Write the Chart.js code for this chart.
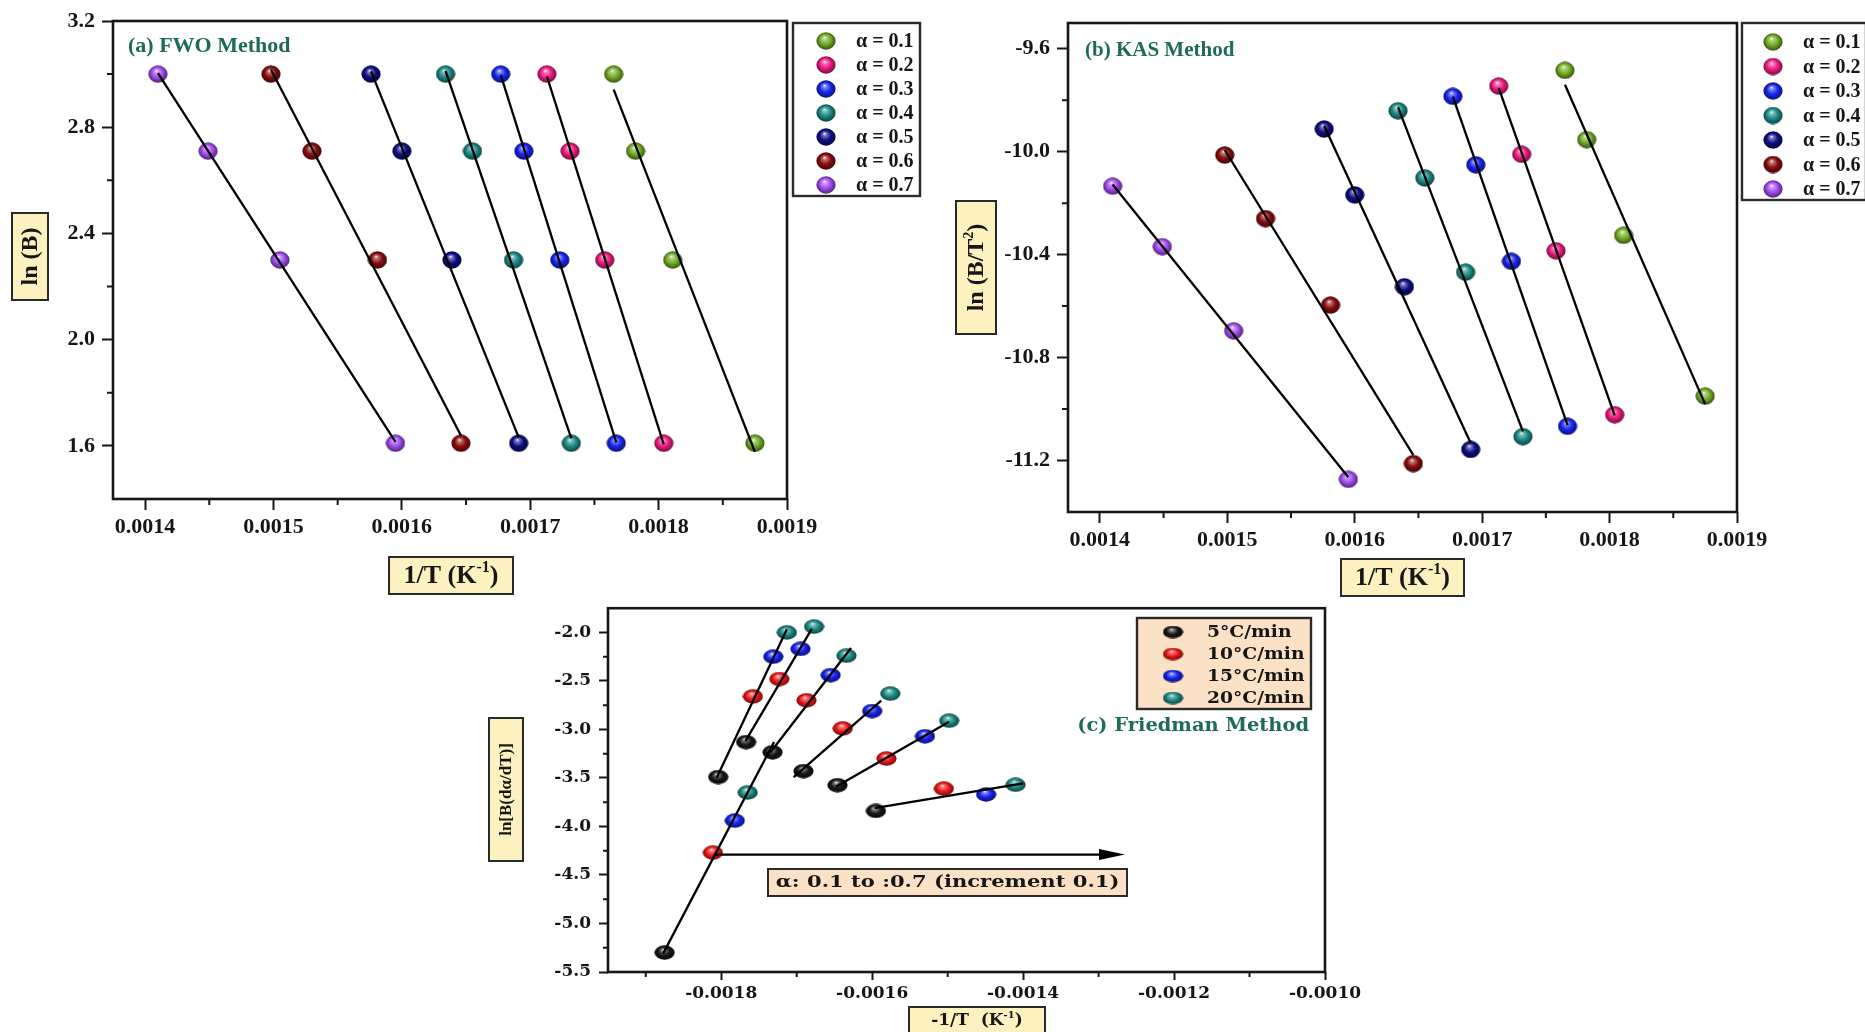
<!DOCTYPE html>
<html>
<head>
<meta charset="utf-8">
<title>Isoconversional kinetic plots</title>
<script src="https://cdn.jsdelivr.net/npm/chart.js@4.4.1/dist/chart.umd.min.js"></script>
<style>
  html, body { margin: 0; padding: 0; background: #ffffff; }
  body { width: 1865px; height: 1032px; position: relative; overflow: hidden; }
  canvas { position: absolute; }
</style>
</head>
<body>
<canvas id="fwo" width="930" height="600" style="left:0px;top:0px;width:930px;height:600px"></canvas>
<canvas id="kas" width="935" height="600" style="left:930px;top:0px;width:935px;height:600px"></canvas>
<canvas id="friedman" width="940" height="442" style="left:440px;top:590px;width:940px;height:442px"></canvas>
<script>
// ---------------------------------------------------------------------------
// Data
// ---------------------------------------------------------------------------
const alphaLabels = ['α = 0.1', 'α = 0.2', 'α = 0.3', 'α = 0.4', 'α = 0.5', 'α = 0.6', 'α = 0.7'];

// Columns of the per-conversion arrays follow this heating-rate order (°C/min)
const heatingRates = [20, 15, 10, 5];
const lnBeta = [3.00, 2.71, 2.30, 1.61];

// 1/T (K^-1) reached at each conversion
const invT01 = [0.001765, 0.001782, 0.001811, 0.001875];
const invT02 = [0.001713, 0.001731, 0.001758, 0.001804];
const invT03 = [0.001677, 0.001695, 0.001723, 0.001767];
const invT04 = [0.001634, 0.001655, 0.001687, 0.001732];
const invT05 = [0.001576, 0.001600, 0.001639, 0.001691];
const invT06 = [0.001498, 0.001530, 0.001581, 0.001646];
const invT07 = [0.001410, 0.001449, 0.001505, 0.001595];

// ln(B/T^2) for the KAS plot
const kas01 = [-9.684, -9.953, -10.325, -10.950];
const kas02 = [-9.745, -10.010, -10.385, -11.022];
const kas03 = [-9.785, -10.051, -10.426, -11.067];
const kas04 = [-9.841, -10.102, -10.468, -11.107];
const kas05 = [-9.912, -10.168, -10.525, -11.157];
const kas06 = [-10.013, -10.260, -10.596, -11.212];
const kas07 = [-10.134, -10.369, -10.696, -11.273];

// Friedman: ln[B(dα/dT)] for α = 0.1 ... 0.7 at each heating rate
const rateLabels = ['5°C/min', '10°C/min', '15°C/min', '20°C/min'];
const fried05 = [-5.30, -3.49, -3.13, -3.235, -3.43, -3.575, -3.84];
const fried10 = [-4.27, -2.66, -2.48, -2.70, -2.99, -3.30, -3.61];
const fried15 = [-3.94, -2.25, -2.17, -2.44, -2.81, -3.07, -3.67];
const fried20 = [-3.65, -2.00, -1.94, -2.24, -2.63, -2.91, -3.57];
// extent (in -1/T) of each Friedman regression line
const friedFitFrom = [-0.001877, -0.001806, -0.001768, -0.001735, -0.001704, -0.001648, -0.001597];
const friedFitTo   = [-0.001730, -0.001713, -0.001680, -0.001628, -0.001588, -0.001498, -0.001400];
// horizontal "α increases" arrow
const arrowSpan = [-0.00181, -0.001265];
const arrowLevel = -4.29;

// Axis ticks
const invTTicks = [0.0014, 0.0015, 0.0016, 0.0017, 0.0018, 0.0019];
const invTMinor = [0.00145, 0.00155, 0.00165, 0.00175, 0.00185];
const fwoTicks = [1.6, 2.0, 2.4, 2.8, 3.2];
const fwoMinor = [1.8, 2.2, 2.6, 3.0];
const kasTicks = [-11.2, -10.8, -10.4, -10.0, -9.6];
const kasMinor = [-11.0, -10.6, -10.2, -9.8];
const friedXTicks = [-0.0018, -0.0016, -0.0014, -0.0012, -0.0010];
const friedXMinor = [-0.0019, -0.0017, -0.0015, -0.0013, -0.0011];
const friedYTicks = [-5.5, -5.0, -4.5, -4.0, -3.5, -3.0, -2.5, -2.0];
const friedYMinor = [-5.25, -4.75, -4.25, -3.75, -3.25, -2.75, -2.25];

// ---------------------------------------------------------------------------
// Styling helpers
// ---------------------------------------------------------------------------
const INK = '#161616';
const TITLE = '#1d6b58';
const SERIF = "'Liberation Serif', 'Times New Roman', serif";
const WIDE = "'DejaVu Serif', serif";
const LABEL_FILL = '#fcf1bf';
const PEACH = '#fbe2c6';

const alphaColors = ['#72ae26', '#f01a82', '#1626f0', '#1b8a86', '#0d0d84', '#8a0c0c', '#a44cf2'];
const rateColors = ['#171717', '#f01616', '#1624f0', '#1b8a86'];

function shade(hex, f) {
  const n = parseInt(hex.slice(1), 16);
  let r = n >> 16, g = (n >> 8) & 255, b = n & 255;
  if (f >= 0) { r += (255 - r) * f; g += (255 - g) * f; b += (255 - b) * f; }
  else { r *= 1 + f; g *= 1 + f; b *= 1 + f; }
  return 'rgb(' + Math.round(r) + ',' + Math.round(g) + ',' + Math.round(b) + ')';
}

// glossy ball used as point marker
function sphere(hex, w, h) {
  const c = document.createElement('canvas');
  c.width = w; c.height = h;
  const g = c.getContext('2d');
  g.scale(1, h / w);
  const r = w / 2;
  const grd = g.createRadialGradient(r * 0.85, r * 0.6, 0, r, r, r);
  grd.addColorStop(0, '#ffffff');
  grd.addColorStop(0.18, shade(hex, 0.45));
  grd.addColorStop(0.55, hex);
  grd.addColorStop(1, shade(hex, -0.55));
  g.fillStyle = grd;
  g.beginPath();
  g.arc(r, r, r - 0.4, 0, Math.PI * 2);
  g.fill();
  return c;
}

function leastSquares(xs, ys) {
  const n = xs.length;
  const mx = xs.reduce((s, v) => s + v, 0) / n;
  const my = ys.reduce((s, v) => s + v, 0) / n;
  let sxy = 0, sxx = 0;
  for (let i = 0; i < n; i++) { sxy += (xs[i] - mx) * (ys[i] - my); sxx += (xs[i] - mx) ** 2; }
  const m = sxy / sxx;
  return { m: m, b: my - m * mx };
}

function fitLine(xs, ys, from, to) {
  const f = leastSquares(xs, ys);
  return {
    type: 'scatter', showLine: true, order: 0,
    data: [{ x: from, y: f.m * from + f.b }, { x: to, y: f.m * to + f.b }],
    borderColor: '#000', borderWidth: 2.3, pointRadius: 0, fill: false
  };
}

function pointSet(label, xs, ys, img) {
  return {
    type: 'scatter', label: label, order: 1,
    data: xs.map((x, i) => ({ x: x, y: ys[i] })),
    pointStyle: img, pointRadius: 9, pointHoverRadius: 9
  };
}

function axis(spec, horizontal) {
  return {
    type: 'linear', min: spec.min, max: spec.max,
    afterBuildTicks: s => { s.ticks = spec.ticks.map(v => ({ value: v })); },
    afterFit: s => { if (horizontal) s.height = spec.size; else s.width = spec.size; },
    border: { display: false },
    grid: { drawOnChartArea: false, drawTicks: true, tickLength: spec.tickLen, tickWidth: 2, tickColor: INK },
    ticks: {
      font: spec.font, color: INK, padding: spec.pad, maxRotation: 0, minRotation: 0, autoSkip: false,
      callback: v => Number(v).toFixed(spec.dec)
    }
  };
}

function minorTicks(chart, xs, ys, len) {
  const c = chart.ctx, a = chart.chartArea, sx = chart.scales.x, sy = chart.scales.y;
  c.save();
  c.strokeStyle = INK; c.lineWidth = 2;
  c.beginPath();
  xs.forEach(v => { const p = sx.getPixelForValue(v); c.moveTo(p, a.bottom); c.lineTo(p, a.bottom + len); });
  ys.forEach(v => { const p = sy.getPixelForValue(v); c.moveTo(a.left, p); c.lineTo(a.left - len, p); });
  c.stroke();
  c.restore();
}

function frame(chart) {
  const c = chart.ctx, a = chart.chartArea;
  c.save();
  c.strokeStyle = INK; c.lineWidth = 2.6;
  c.strokeRect(a.left, a.top, a.right - a.left, a.bottom - a.top);
  c.restore();
}

function box(c, x0, y0, x1, y1, fill, lw) {
  c.save();
  c.fillStyle = fill; c.fillRect(x0, y0, x1 - x0, y1 - y0);
  c.strokeStyle = '#2a2a2a'; c.lineWidth = lw || 2;
  c.strokeRect(x0, y0, x1 - x0, y1 - y0);
  c.restore();
}

// centred text with superscript parts: parts = [[text, isSup], ...]
function richText(c, parts, cx, cy, family, size, rotated, xScale) {
  c.save();
  c.translate(cx, cy);
  if (rotated) c.rotate(-Math.PI / 2);
  c.scale(xScale || 1, 1);
  c.fillStyle = INK;
  c.textBaseline = 'middle'; c.textAlign = 'left';
  const supSize = Math.round(size * 0.6);
  let total = 0;
  const widths = parts.map(([t, sup]) => {
    c.font = 'bold ' + (sup ? supSize : size) + 'px ' + family;
    const w = c.measureText(t).width; total += w; return w;
  });
  let x = -total / 2;
  parts.forEach(([t, sup], i) => {
    c.font = 'bold ' + (sup ? supSize : size) + 'px ' + family;
    c.fillText(t, x, sup ? -size * 0.32 : 0);
    x += widths[i];
  });
  c.restore();
}

function legendBlock(c, items, markerX, textX, firstY, step, family, size, xScale) {
  c.save();
  c.font = 'bold ' + size + 'px ' + family;
  c.fillStyle = INK; c.textBaseline = 'middle'; c.textAlign = 'left';
  items.forEach((it, i) => {
    const y = firstY + i * step;
    c.drawImage(it.img, markerX - it.img.width / 2, y - it.img.height / 2);
    c.save();
    c.translate(textX, y + 1);
    c.scale(xScale || 1, 1);
    c.fillText(it.label, 0, 0);
    c.restore();
  });
  c.restore();
}

function titleText(c, text, x, y, family, size, align, xScale) {
  c.save();
  c.font = 'bold ' + size + 'px ' + family;
  c.fillStyle = TITLE; c.textBaseline = 'middle'; c.textAlign = align || 'left';
  c.translate(x, y);
  c.scale(xScale || 1, 1);
  c.fillText(text, 0, 0);
  c.restore();
}

function makeChart(id, datasets, padding, xSpec, ySpec, decor) {
  return new Chart(document.getElementById(id), {
    type: 'scatter',
    data: { datasets: datasets },
    options: {
      responsive: false, animation: false, devicePixelRatio: 1,
      layout: { autoPadding: false, padding: padding },
      plugins: { legend: { display: false }, tooltip: { enabled: false } },
      scales: { x: axis(xSpec, true), y: axis(ySpec, false) }
    },
    plugins: [{ id: 'decor_' + id, afterDraw: decor }]
  });
}

// ---------------------------------------------------------------------------
// Series assembly
// ---------------------------------------------------------------------------
const invT = [invT01, invT02, invT03, invT04, invT05, invT06, invT07];
const kas = [kas01, kas02, kas03, kas04, kas05, kas06, kas07];
const friedY = [fried05, fried10, fried15, fried20];
const friedRateOrder = [5, 10, 15, 20].map(r => heatingRates.indexOf(r));

const ballAB = alphaColors.map(col => sphere(col, 20, 18));
const ballC = rateColors.map(col => sphere(col, 21, 15));
const ballCLegend = rateColors.map(col => sphere(col, 21, 13));

function isoDatasets(yFor) {
  const lines = [], points = [];
  invT.forEach((xs, k) => {
    const ys = yFor(k);
    lines.push(fitLine(xs, ys, Math.min(...xs), Math.max(...xs)));
    points.push(pointSet(alphaLabels[k], xs, ys, ballAB[k]));
  });
  return lines.concat(points);
}

const fwoSets = isoDatasets(() => lnBeta);
const kasSets = isoDatasets(k => kas[k]);

const friedSets = [];
invT.forEach((xs, k) => {
  const fx = friedRateOrder.map(col => -xs[col]);
  const fy = friedY.map(arr => arr[k]);
  friedSets.push(fitLine(fx, fy, friedFitFrom[k], friedFitTo[k]));
});
friedY.forEach((ys, r) => {
  const col = friedRateOrder[r];
  const xs = invT.map(arr => -arr[col]);
  friedSets.push(pointSet(rateLabels[r], xs, ys, ballC[r]));
});

const tickFontAB = { family: SERIF, size: 22, weight: 'bold' };
const tickFontC = { family: WIDE, size: 17, weight: 'bold' };

// ---------------------------------------------------------------------------
// (a) FWO
// ---------------------------------------------------------------------------
makeChart('fwo', fwoSets,
  { left: 0, top: 21, right: 143, bottom: 0 },
  { min: 0.001375, max: 0.0019, ticks: invTTicks, size: 101, tickLen: 11, pad: 4, dec: 4, font: tickFontAB },
  { min: 1.4, max: 3.2, ticks: fwoTicks, size: 113, tickLen: 11, pad: 7, dec: 1, font: tickFontAB },
  chart => {
    const c = chart.ctx;
    minorTicks(chart, invTMinor, fwoMinor, 6);
    frame(chart);
    titleText(c, '(a) FWO Method', 128, 46, SERIF, 22);
    box(c, 793, 23, 920, 196, '#ffffff', 2.4);
    legendBlock(c, alphaLabels.map((l, i) => ({ label: l, img: ballAB[i] })), 826, 856, 41, 24, SERIF, 20);
    box(c, 12, 213, 48, 300, LABEL_FILL, 2);
    richText(c, [['ln (B)', false]], 31, 256.5, SERIF, 24, true);
    box(c, 389, 557, 513, 594, LABEL_FILL, 2);
    richText(c, [['1/T (K', false], ['-1', true], [')', false]], 451, 576, SERIF, 26, false);
  });

// ---------------------------------------------------------------------------
// (b) KAS
// ---------------------------------------------------------------------------
const KX = 930;
makeChart('kas', kasSets,
  { left: 0, top: 23, right: 128, bottom: 0 },
  { min: 0.001375, max: 0.0019, ticks: invTTicks, size: 88, tickLen: 11, pad: 4, dec: 4, font: tickFontAB },
  { min: -11.4, max: -9.5, ticks: kasTicks, size: 138, tickLen: 11, pad: 7, dec: 1, font: tickFontAB },
  chart => {
    const c = chart.ctx;
    minorTicks(chart, invTMinor, kasMinor, 6);
    frame(chart);
    titleText(c, '(b) KAS Method', 1085 - KX, 51, SERIF, 21);
    box(c, 1742 - KX, 23, 1866 - KX, 200, '#ffffff', 2.4);
    legendBlock(c, alphaLabels.map((l, i) => ({ label: l, img: ballAB[i] })), 1773 - KX, 1803 - KX, 42, 24.5, SERIF, 20);
    box(c, 956 - KX, 201, 996 - KX, 334, LABEL_FILL, 2);
    richText(c, [['ln (B/T', false], ['2', true], [')', false]], 977 - KX, 267.5, SERIF, 24, true);
    box(c, 1341 - KX, 559, 1464 - KX, 596, LABEL_FILL, 2);
    richText(c, [['1/T (K', false], ['-1', true], [')', false]], 1402.5 - KX, 578, SERIF, 26, false);
  });

// ---------------------------------------------------------------------------
// (c) Friedman
// ---------------------------------------------------------------------------
const FX = 440, FY = 590;
makeChart('friedman', friedSets,
  { left: 0, top: 16, right: 55, bottom: 0 },
  { min: -0.00195, max: -0.0010, ticks: friedXTicks, size: 60, tickLen: 8, pad: 3, dec: 4, font: tickFontC },
  { min: -5.5, max: -1.75, ticks: friedYTicks, size: 168, tickLen: 9, pad: 8, dec: 1, font: tickFontC },
  chart => {
    const c = chart.ctx, sx = chart.scales.x, sy = chart.scales.y;
    minorTicks(chart, friedXMinor, friedYMinor, 5);
    frame(chart);

    // arrow: direction of increasing conversion
    const ax0 = sx.getPixelForValue(arrowSpan[0]);
    const ax1 = sx.getPixelForValue(arrowSpan[1]);
    const ay = sy.getPixelForValue(arrowLevel);
    c.save();
    c.strokeStyle = '#000'; c.fillStyle = '#000'; c.lineWidth = 2.2;
    c.beginPath(); c.moveTo(ax0, ay); c.lineTo(ax1 - 20, ay); c.stroke();
    c.beginPath(); c.moveTo(ax1, ay); c.lineTo(ax1 - 26, ay - 5.5); c.lineTo(ax1 - 26, ay + 5.5); c.closePath(); c.fill();
    c.restore();

    box(c, 768 - FX, 869 - FY, 1127 - FX, 896 - FY, PEACH, 2);
    richText(c, [['α: 0.1 to :0.7 (increment 0.1)', false]], 947.5 - FX, 883 - FY, WIDE, 17, false, 1.24);

    box(c, 1137 - FX, 618 - FY, 1311 - FX, 709 - FY, PEACH, 2.4);
    legendBlock(c, rateLabels.map((l, i) => ({ label: l, img: ballCLegend[i] })), 1173 - FX, 1207 - FX, 632 - FY, 22, WIDE, 17, 1.1);
    titleText(c, '(c) Friedman Method', 1309 - FX, 726 - FY, WIDE, 18, 'right', 1.08);

    box(c, 489 - FX, 718 - FY, 523 - FX, 861 - FY, LABEL_FILL, 2);
    richText(c, [['ln[B(dα/dT)]', false]], 507 - FX, 789.5 - FY, SERIF, 17, true);
    box(c, 909 - FX, 1007 - FY, 1045 - FX, 1040 - FY, LABEL_FILL, 2);
    richText(c, [['-1/T  (K', false], ['-1', true], [')', false]], 977 - FX, 1021 - FY, WIDE, 17, false);
  });
</script>
</body>
</html>
